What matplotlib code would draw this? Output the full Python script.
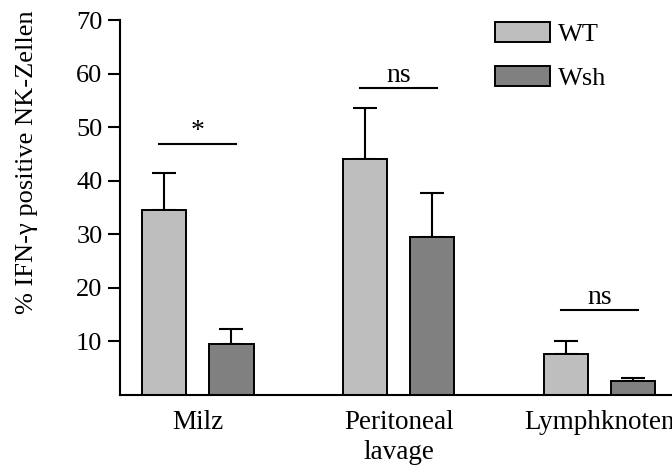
import numpy as np
import matplotlib
matplotlib.use("Agg")
import matplotlib.pyplot as plt

plt.rcParams['font.family'] = ['Liberation Serif', 'DejaVu Serif']

groups = ["Milz", "Peritoneal\nlavage", "Lymphknoten"]
wt = [34.5, 44.0, 7.6]
wt_err = [7.0, 9.6, 2.5]
wsh = [9.5, 29.5, 2.7]
wsh_err = [2.9, 8.3, 0.5]
sig_labels = ["*", "ns", "ns"]
sig_heights = [46.85, 57.25, 15.8]

x = np.arange(len(groups))
w = 0.221
off = 0.167

fig = plt.figure(figsize=(6.72, 4.65), dpi=100)
ax = fig.add_axes([120 / 672, 70 / 465, 552 / 672, 375 / 465])

ax.bar(x - off, wt, w, color='#bebebe', edgecolor='black', linewidth=1.4,
       label='WT', zorder=2)
ax.bar(x + off, wsh, w, color='#808080', edgecolor='black', linewidth=1.4,
       label='Wsh', zorder=2)
ax.errorbar(x - off, wt, yerr=[np.zeros(3), wt_err], fmt='none', ecolor='black',
            elinewidth=1.5, capsize=8.5, capthick=1.5, zorder=1)
ax.errorbar(x + off, wsh, yerr=[np.zeros(3), wsh_err], fmt='none', ecolor='black',
            elinewidth=1.5, capsize=8.5, capthick=1.5, zorder=1)

for xi, h, s in zip(x, sig_heights, sig_labels):
    ax.plot([xi - 0.192, xi + 0.192], [h, h], color='black', lw=1.5)
    ax.text(xi, h + 1.1, s, ha='center', va='baseline', fontsize=20)

ax.set_xlim(-0.387, 2.36)
ax.set_ylim(0, 70)
ax.set_yticks([10, 20, 30, 40, 50, 60, 70])
ax.set_xticks(x)
ax.set_xticklabels(groups, fontsize=19.5, linespacing=1.25)
ax.tick_params(axis='x', length=0, pad=11)
ax.tick_params(axis='y', length=8.6, width=1.5, labelsize=19, pad=4)

ax.spines['right'].set_visible(False)
ax.spines['top'].set_visible(False)
ax.spines['left'].set_linewidth(1.5)
ax.spines['bottom'].set_linewidth(1.5)

ax.set_ylabel("% IFN-\u03b3 positive NK-Zellen", fontsize=19)
ax.yaxis.set_label_coords(-0.149, 0.62)

ax.legend(loc='upper left', bbox_to_anchor=(495 / 672, 1 - 22 / 465),
          bbox_transform=fig.transFigure, frameon=False, fontsize=19,
          handlelength=2.08, handleheight=0.78, handletextpad=0.3,
          labelspacing=0.75, borderpad=0, borderaxespad=0)

fig.savefig("out.png", dpi=100)
